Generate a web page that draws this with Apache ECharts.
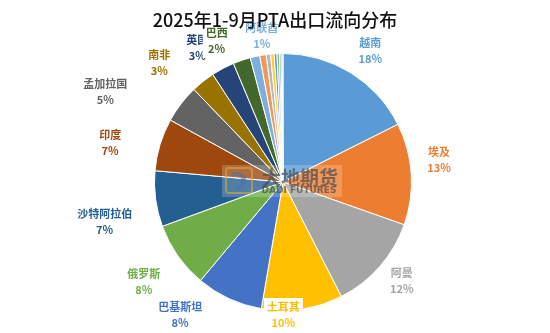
<!DOCTYPE html>
<html>
<head>
<meta charset="utf-8">
<script src="https://cdn.jsdelivr.net/npm/echarts@6/dist/echarts.min.js"></script>
<style>
  html, body { margin: 0; padding: 0; background: #fff; }
  #chart { width: 550px; height: 333px; }
</style>
</head>
<body>
<div id="chart"></div>
<script>
// Destinations of PTA exports, Jan–Sep 2025 (share of total, %)
const categories = ['越南', '埃及', '阿曼', '土耳其', '巴基斯坦', '俄罗斯', '沙特阿拉伯', '印度',
  '孟加拉国', '南非', '英国', '巴西', '阿联酋',
  '其他1', '其他2', '其他3', '其他4', '其他5', '其他6', '其他7', '其他8'];
const shares = [17.6, 12.8, 12.1, 10.2, 8.4, 8.3, 7.0, 6.6,
  4.8, 3.0, 2.9, 2.2, 1.2,
  0.8, 0.55, 0.45, 0.35, 0.3, 0.2, 0.15, 0.1];
// Only the named destinations carry a label
const labelledCount = 13;

const palette = ['#5B9BD5', '#ED7D31', '#A5A5A5', '#FFC000', '#4472C4', '#70AD47',
  '#255E91', '#9E480E', '#636363', '#997300', '#264478', '#43682B',
  '#7CAFDD', '#F1975A', '#B7B7B7', '#FFCD33', '#698ED0', '#8CC168',
  '#327DC2', '#D26012', '#848484'];

const CX = 283, CY = 182, R = 128.5;
const GAP = 14, TOP = 22, BOTTOM = 332;

// Hand adjustments of individual labels (px), applied after the radial placement
const labelNudge = {
  '越南': [2, 7], '埃及': [1, -12], '阿曼': [-3, -8], '土耳其': [-24, 4],
  '巴基斯坦': [-33, -1], '俄罗斯': [-4, 5], '沙特阿拉伯': [-8, 17], '印度': [-22, 7],
  '孟加拉国': [-43, 13], '南非': [-23, 7], '英国': [-10, 9], '巴西': [-14, 2], '阿联酋': [14, -2]
};

// Mid angle of each slice, clockwise from 12 o'clock
const total = shares.reduce((a, b) => a + b, 0);
const midAngles = [];
let acc = 0;
shares.forEach(v => {
  midAngles.push((acc + v / 2) / total * Math.PI * 2);
  acc += v;
});

const data = categories.map((name, i) => {
  const item = { name: name, value: shares[i], itemStyle: { color: palette[i] } };
  if (i < labelledCount) {
    item.label = { show: true, color: palette[i] };
    if (name === '土耳其' || name === '巴西') {
      item.label.backgroundColor = '#fff';
      item.label.padding = [1, 3];
    }
  } else {
    item.label = { show: false };
  }
  return item;
});

const chart = echarts.init(document.getElementById('chart'));
chart.setOption({
  backgroundColor: '#fff',
  animation: false,
  title: {
    text: '2025年1-9月PTA出口流向分布',
    left: 'center',
    top: 6,
    textStyle: { fontFamily: 'Noto Sans CJK SC', fontSize: 18, fontWeight: 500, color: '#111' }
  },
  graphic: [
    {
      type: 'rect', z: 100,
      shape: { x: 222, y: 165, width: 120, height: 32 },
      style: { fill: 'rgba(255,255,255,0.2)' }
    },
    {
      type: 'rect', z: 100,
      shape: { x: 226, y: 168, width: 26, height: 25, r: 3 },
      style: { fill: 'none', stroke: 'rgba(214,170,70,0.6)', lineWidth: 2 }
    },
    {
      type: 'polygon', z: 100,
      shape: { points: [[232, 172], [240, 172], [246, 177], [246, 184], [240, 189], [236, 189], [241, 184], [241, 177], [236, 176], [232, 176]] },
      style: { fill: 'rgba(70,110,170,0.5)' }
    },
    {
      type: 'text', z: 100,
      style: {
        text: '大地期货', x: 300, y: 178, align: 'center', verticalAlign: 'middle',
        font: 'bold 19px "Noto Sans CJK SC"', fill: 'rgba(75,75,75,0.7)'
      }
    },
    {
      type: 'text', z: 100,
      style: {
        text: 'DADI FUTURES', x: 299, y: 191, align: 'center', verticalAlign: 'middle',
        font: 'bold 9px "DejaVu Sans"', fill: 'rgba(75,75,75,0.7)'
      }
    }
  ],
  series: [{
    type: 'pie',
    center: [CX, CY],
    radius: R,
    startAngle: 90,
    clockwise: true,
    avoidLabelOverlap: false,
    data: data,
    itemStyle: { borderColor: '#fff', borderWidth: 1 },
    label: {
      position: 'outside',
      fontFamily: 'Noto Sans CJK SC',
      fontSize: 11,
      fontWeight: 'bold',
      lineHeight: 16,
      align: 'center',
      formatter: p => p.name + '\n' + Math.round(p.percent) + '%'
    },
    labelLine: { show: false, length: 8, length2: 0 },
    labelLayout: function (params) {
      const i = params.dataIndex;
      const a = midAngles[i];
      const dx = Math.sin(a), dy = -Math.cos(a);
      const w = params.labelRect.width, h = params.labelRect.height;
      const d = R + GAP + Math.abs(dx) * w / 2 + Math.abs(dy) * h / 2;
      const nudge = labelNudge[categories[i]] || [0, 0];
      const x = CX + dx * d + nudge[0];
      let y = CY + dy * d;
      y = Math.max(TOP + h / 2, Math.min(BOTTOM - h / 2, y)) + nudge[1];
      y = Math.min(BOTTOM - h / 2, y);
      return { x: x, y: y, align: 'center', verticalAlign: 'middle' };
    }
  }]
});
</script>
</body>
</html>
